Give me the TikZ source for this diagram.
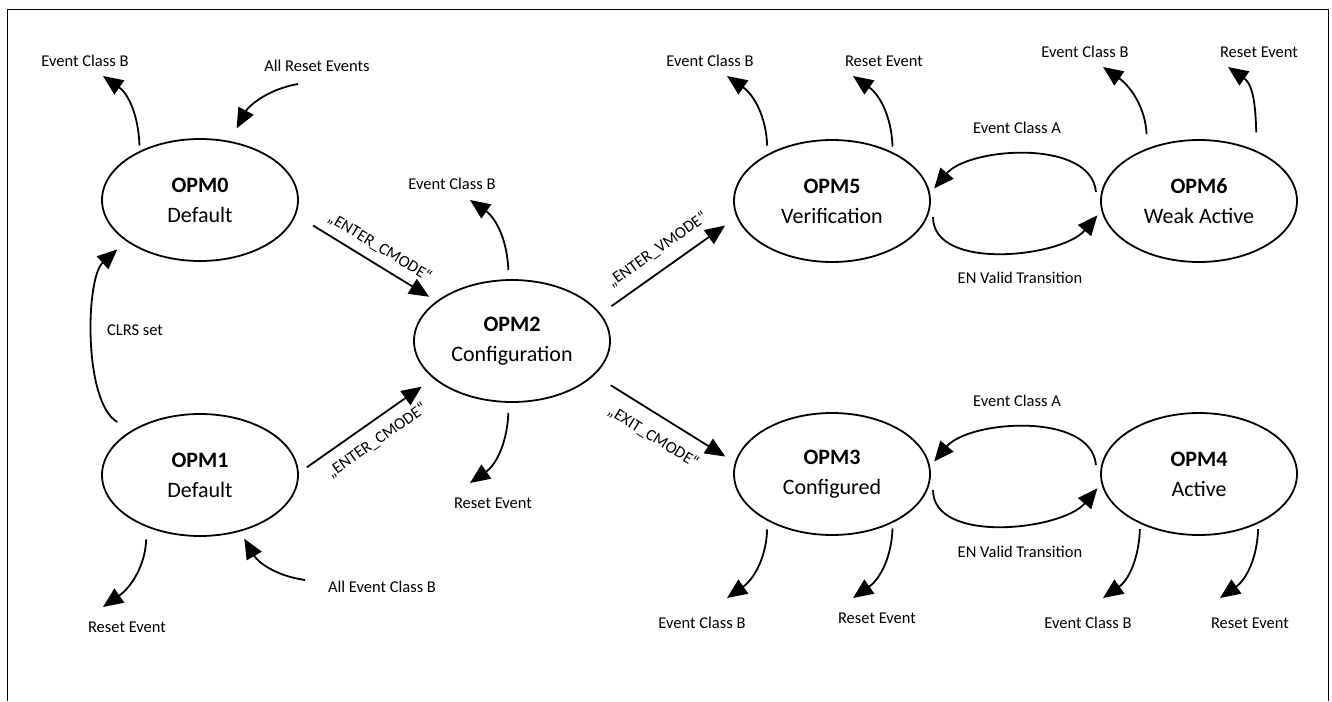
\documentclass[tikz,border=0pt]{standalone}
\usepackage{fontspec}
\setmainfont{Carlito}
\usetikzlibrary{arrows.meta,shapes.geometric}
\tikzset{opm/.style={ellipse,draw,line width=1.8pt,minimum width=196pt,minimum height=122pt,inner sep=0pt,outer sep=6pt,align=center,font=\fontsize{22}{30}\selectfont}}
\tikzset{lbl/.style={font=\fontsize{16.5}{19}\selectfont}}
\tikzset{trans/.style={-{Triangle[length=20pt,width=17pt]},line width=1.8pt}}
\tikzset{exitup/.style={trans,out=92,in=-35}}
\tikzset{exitdown/.style={trans,out=-92,in=35}}
\begin{document}
\begin{tikzpicture}[x=1pt,y=1pt]
\useasboundingbox (0,0) rectangle (1332,-701);
\draw[line width=1pt] (7,-701) -- (7,-10) -- (1328,-10) -- (1328,-701);

% states
\node (opm0) at (200,-200)[opm]{\textbf{OPM0}\\Default};
\node (opm1) at (200,-475)[opm]{\textbf{OPM1}\\Default};
\node (opm2) at (512,-341)[opm]{\textbf{OPM2}\\Configuration};
\node (opm5) at (832,-201)[opm]{\textbf{OPM5}\\Verification};
\node (opm6) at (1199,-201)[opm]{\textbf{OPM6}\\Weak Active};
\node (opm3) at (832,-474)[opm]{\textbf{OPM3}\\Configured};
\node (opm4) at (1199,-474)[opm]{\textbf{OPM4}\\Active};

% event texts
\node (lb0) at (85,-61)[lbl]{Event Class B};
\node (lar0) at (317,-66)[lbl]{All Reset Events};
\node (lclrs) at (135,-330)[lbl]{CLRS set};
\node (lr1) at (127,-627)[lbl]{Reset Event};
\node (laeb1) at (382,-587)[lbl]{All Event Class B};
\node (lb2) at (452,-184)[lbl]{Event Class B};
\node (lr2) at (493,-503)[lbl]{Reset Event};
\node (lb5) at (710,-61)[lbl]{Event Class B};
\node (lr5) at (884,-61)[lbl]{Reset Event};
\node (lb6) at (1085,-52)[lbl]{Event Class B};
\node (lr6) at (1259,-52)[lbl]{Reset Event};
\node (la56) at (1017,-128)[lbl]{Event Class A};
\node (len56) at (1020,-278)[lbl]{EN Valid Transition};
\node (la34) at (1017,-401)[lbl]{Event Class A};
\node (len34) at (1020,-552)[lbl]{EN Valid Transition};
\node (lb3) at (702,-623)[lbl]{Event Class B};
\node (lr3) at (877,-618)[lbl]{Reset Event};
\node (lb4) at (1088,-623)[lbl]{Event Class B};
\node (lr4) at (1250,-623)[lbl]{Reset Event};

% free ends
\coordinate (b0) at (103,-76);
\coordinate (ar0) at (298,-84);
\coordinate (r1) at (103,-607);
\coordinate (aeb1) at (305,-580);
\coordinate (b2) at (470,-200);
\coordinate (r2) at (470,-483);
\coordinate (b5) at (727,-76);
\coordinate (r5) at (853,-76);
\coordinate (b6) at (1103,-67);
\coordinate (r6) at (1228,-67);
\coordinate (b3) at (727,-598);
\coordinate (r3) at (853,-598);
\coordinate (b4) at (1103,-598);
\coordinate (r4) at (1220,-598);

% OPM0 / OPM1
\draw[exitup] (opm0.138) to (b0);
\draw[trans,shorten >=9pt] (ar0) to[out=190,in=62] (opm0.63);
\draw[trans,looseness=0.7,shorten <=11pt,shorten >=7pt] (opm1.147) to[out=150,in=222] (opm0.210);
\draw[exitdown,shorten <=7pt] (opm1.227) to (r1);
\draw[trans,shorten >=3pt] (aeb1) to[out=172,in=-60] (opm1.-55);

% into and out of OPM2
\draw[trans,shorten <=15pt,shorten >=3pt] (opm0.-10) -- node[lbl,sloped,above=5pt,pos=0.54]{„ENTER\_CMODE“} (opm2.152);
\draw[trans,shorten <=4pt,shorten >=9pt] (opm1.3) -- node[lbl,sloped,below=7pt]{„ENTER\_CMODE“} (opm2.206);
\draw[exitup,shorten <=4pt] (opm2.93) to (b2);
\draw[exitdown,shorten <=5pt] (opm2.-93) to (r2);
\draw[trans,shorten <=8pt,shorten >=9pt] (opm2.18) -- node[lbl,sloped,above=8pt]{„ENTER\_VMODE“} (opm5.191);
\draw[trans,shorten <=14pt,shorten >=6pt] (opm2.-23) -- node[lbl,sloped,below=10pt]{„EXIT\_CMODE“} (opm3.172);

% OPM5 / OPM6
\draw[exitup,shorten <=3pt] (opm5.141) to (b5);
\draw[exitup] (opm5.42) to (r5);
\draw[exitup,shorten <=9pt] (opm6.132) to (b6);
\draw[exitup,shorten <=13pt] (opm6.44) to (r6);
\draw[trans,looseness=0.85] (opm6.175) to[out=95,in=50] (opm5.7);
\draw[trans,looseness=0.85] (opm5.-9) to[out=-90,in=230] (opm6.188);

% OPM3 / OPM4
\draw[exitdown,shorten <=3pt] (opm3.219) to (b3);
\draw[exitdown] (opm3.-42) to (r3);
\draw[exitdown] (opm4.223) to (b4);
\draw[exitdown] (opm4.-43) to (r4);
\draw[trans,looseness=0.85] (opm4.175) to[out=95,in=50] (opm3.7);
\draw[trans,looseness=0.85] (opm3.-9) to[out=-90,in=230] (opm4.188);
\end{tikzpicture}
\end{document}
